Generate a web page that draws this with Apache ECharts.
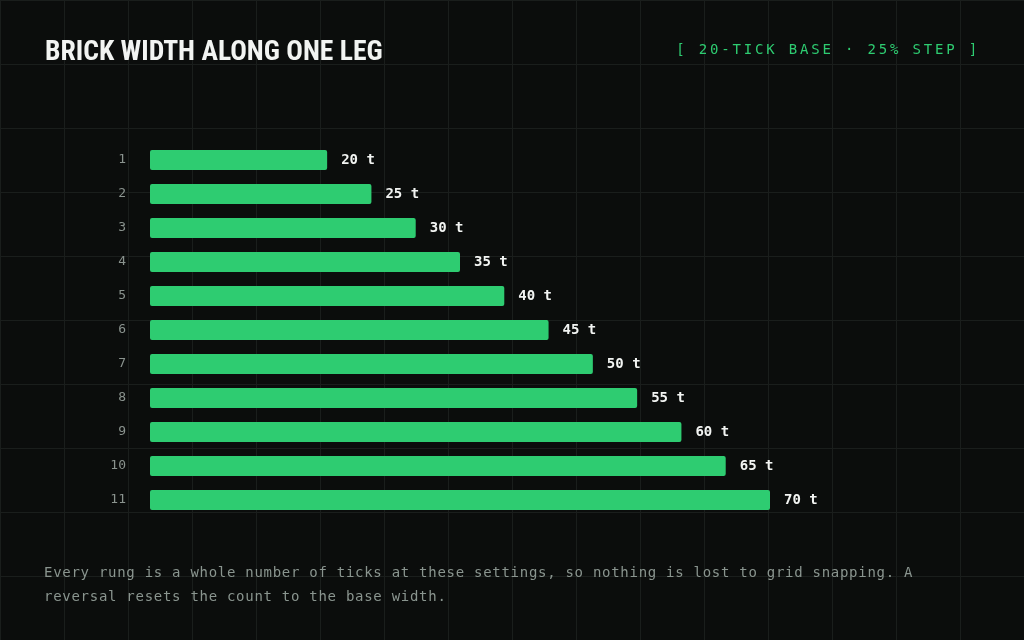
<!DOCTYPE html>
<html>
<head>
<meta charset="utf-8">
<script src="https://cdn.jsdelivr.net/npm/echarts@6/dist/echarts.min.js"></script>
<style>
  html, body { margin: 0; padding: 0; width: 1024px; height: 640px; overflow: hidden; }
  body {
    background-color: #0b0d0c;
    background-image:
      linear-gradient(to right, #1a1e1c 1px, transparent 1px),
      linear-gradient(to bottom, #1a1e1c 1px, transparent 1px);
    background-size: 64px 64px;
  }
  #chart { position: absolute; left: 0; top: 0; width: 1024px; height: 640px; }
  #tag {
    position: absolute; right: 44px; top: 39px;
    font-family: "DejaVu Sans Mono", monospace; font-size: 14px; line-height: 20px;
    letter-spacing: 2.82px; color: #2ecc71; white-space: nowrap;
  }
  #footer {
    position: absolute; left: 44px; top: 560px; width: 960px;
    font-family: "DejaVu Sans Mono", monospace; font-size: 14px; line-height: 24px;
    letter-spacing: 0.72px; color: #8a958f; white-space: pre;
  }
</style>
</head>
<body>
<div id="chart"></div>
<div id="tag"></div>
<div id="footer"></div>
<script>
const titleText = 'BRICK WIDTH ALONG ONE LEG';
const tagText = '[ 20-TICK BASE · 25% STEP ]';
const footerText = 'Every rung is a whole number of ticks at these settings, so nothing is lost to grid snapping. A\nreversal resets the count to the base width.';
const rungs = ['1', '2', '3', '4', '5', '6', '7', '8', '9', '10', '11'];
const widthTicks = [20, 25, 30, 35, 40, 45, 50, 55, 60, 65, 70];
const unitSuffix = ' t';

document.getElementById('tag').textContent = tagText;
document.getElementById('footer').textContent = footerText;

const chart = echarts.init(document.getElementById('chart'), null, { renderer: 'canvas' });
chart.setOption({
  backgroundColor: 'transparent',
  animation: false,
  title: {
    text: titleText,
    left: 40, top: 34,
    textStyle: {
      fontFamily: '"Roboto Condensed", "DejaVu Sans Condensed", "Liberation Sans Narrow", sans-serif',
      fontWeight: 'bold', fontSize: 27.6, color: '#f2f4f2'
    }
  },
  grid: { left: 150, width: 620, top: 143, height: 374, containLabel: false },
  xAxis: {
    type: 'value', min: 0, max: 70,
    show: false
  },
  yAxis: {
    type: 'category', data: rungs, inverse: true,
    axisLine: { show: false }, axisTick: { show: false }, splitLine: { show: false },
    axisLabel: {
      margin: 24, color: '#8a938e', fontSize: 13,
      fontFamily: '"DejaVu Sans Mono", monospace'
    }
  },
  series: [{
    type: 'bar',
    data: widthTicks,
    barWidth: 20,
    itemStyle: { color: '#2ecc71', borderRadius: 2 },
    label: {
      show: true, position: 'right', distance: 14,
      formatter: p => p.value + unitSuffix,
      color: '#f2f4f2', fontSize: 14, fontWeight: 'bold',
      fontFamily: '"DejaVu Sans Mono", monospace'
    }
  }]
});
</script>
</body>
</html>
